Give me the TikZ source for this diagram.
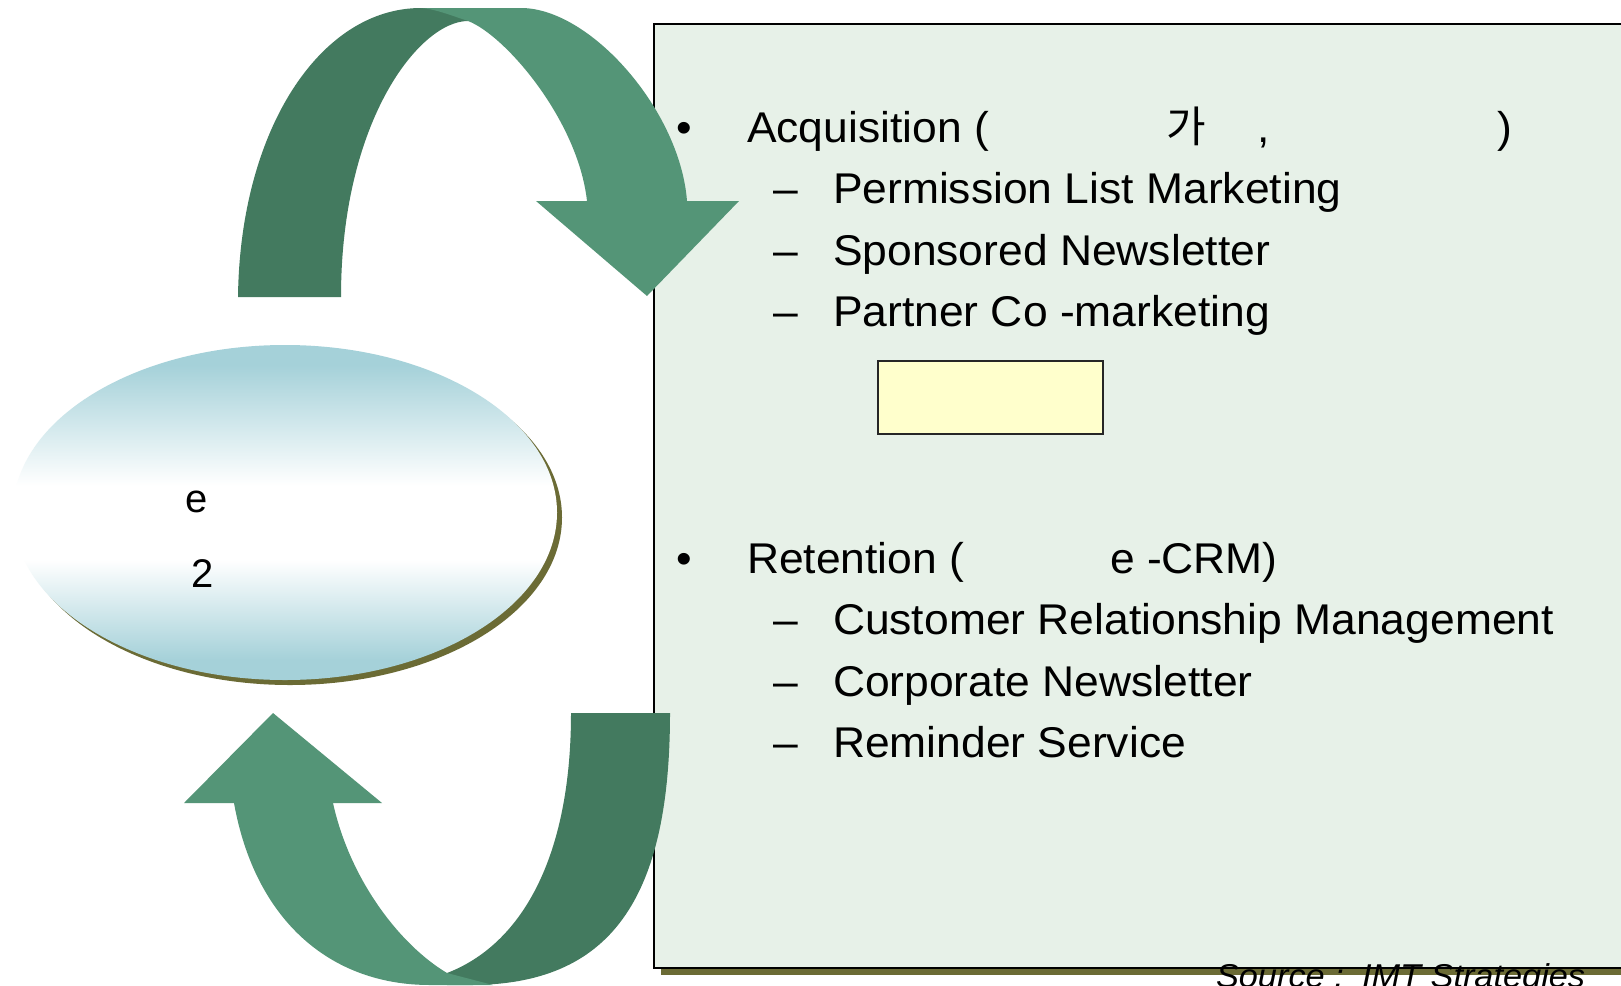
\documentclass[tikz,border=0pt]{standalone}
\usepackage{fontspec}
\setmainfont{Liberation Sans}
\newfontfamily\widef[FakeStretch=1.033]{Liberation Sans}
\newfontfamily\srcf[FakeStretch=1.04]{Liberation Sans}
\newfontfamily\krfont{Noto Sans CJK KR}
\definecolor{darkg}{HTML}{437A5F}
\definecolor{lightg}{HTML}{549577}
\definecolor{boxfill}{HTML}{E7F1E8}
\definecolor{olivesh}{HTML}{6B6B35}
\definecolor{tealc}{HTML}{A5D1D9}
\definecolor{yel}{HTML}{FFFFCC}
\pgfdeclareverticalshading{ellshade}{100bp}{color(0bp)=(tealc); color(28bp)=(tealc); color(43bp)=(white); color(54bp)=(white); color(72bp)=(tealc); color(100bp)=(tealc)}
\begin{document}
\begin{tikzpicture}[x=1pt,y=-1pt,
  txt/.style={anchor=base west, inner sep=0pt, outer sep=0pt, font=\fontsize{43}{50}\widef},
  small/.style={anchor=base west, inner sep=0pt, outer sep=0pt, font=\fontsize{40}{46}\selectfont},
  src/.style={anchor=base west, inner sep=0pt, outer sep=0pt, font=\fontsize{33}{38}\srcf\itshape}]
\useasboundingbox (0,0) rectangle (1621,985);
\fill[white] (0,0) rectangle (1621,985);
% text panel with shadow
\fill[olivesh] (661,31) rectangle (1650,975);
\filldraw[fill=boxfill, draw=black, line width=2pt] (654,24) rectangle (1645,968);
% yellow box
\filldraw[fill=yel, draw=black!85, line width=2pt] (878,361) rectangle (1103,434);
% ellipse with shadow
\fill[olivesh] (290,517.5) ellipse [x radius=272, y radius=167.5];
\shade[shading=ellshade] (285,512.5) ellipse [x radius=272, y radius=167.5];
\node[small] (e1) at (185,512) {e};
\node[small] (e2) at (191,587) {2};
% top curved arrow
\fill[darkg] (238,297) .. controls (240,130) and (320,8) .. (421,8) -- (470,8) -- (468,21)
  .. controls (420,21) and (341,120) .. (341,297) -- cycle;
\fill[lightg] (421,8) -- (521,8) .. controls (590,8) and (680,110) .. (687,201) -- (739,201) -- (647,296) -- (536,201) -- (587,201)
  .. controls (578,120) and (505,35) .. (468,21) .. controls (450,15) and (435,9) .. (421,8) -- cycle;
% bottom curved arrow
\fill[darkg] (571,713) -- (670,713) .. controls (670,900) and (610,985) .. (470,985) -- (447,985) -- (447,973)
  .. controls (520,945) and (571,860) .. (571,713) -- cycle;
\fill[lightg] (273,713) -- (382,803) -- (333,803) .. controls (350,880) and (400,945) .. (447,973) -- (493,985) -- (430,985)
  .. controls (330,985) and (255,920) .. (234,803) -- (184,803) -- cycle;
% text
\node[txt] (b1) at (676,142) {•};
\node[txt] (acq) at (747,142) {Acquisition (};
\node[txt] (ga) at (1166,142) {\krfont 가};
\node[txt] (comma) at (1257,142) {,};
\node[txt] (rp) at (1497,142) {)};
\node[txt] (d1) at (773,203.5) {–};
\node[txt] (i1) at (833,203.5) {Permission List Marketing};
\node[txt] (d2) at (773,265) {–};
\node[txt] (i2) at (833,265) {Sponsored Newsletter};
\node[txt] (d3) at (773,326.5) {–};
\node[txt] (i3) at (833,326.5) {Partner Co -marketing};
\node[txt] (b2) at (676,573) {•};
\node[txt] (ret) at (747,573) {Retention (};
\node[txt] (ecrm) at (1110,573) {e -CRM)};
\node[txt] (d4) at (773,634.5) {–};
\node[txt] (i4) at (833,634.5) {Customer Relationship Management};
\node[txt] (d5) at (773,696) {–};
\node[txt] (i5) at (833,696) {Corporate Newsletter};
\node[txt] (d6) at (773,757.5) {–};
\node[txt] (i6) at (833,757.5) {Reminder Service};
\node[src] (s1) at (1216,987) {Source :};
\node[src] (s2) at (1362,987) {IMT Strategies};
\end{tikzpicture}
\end{document}
